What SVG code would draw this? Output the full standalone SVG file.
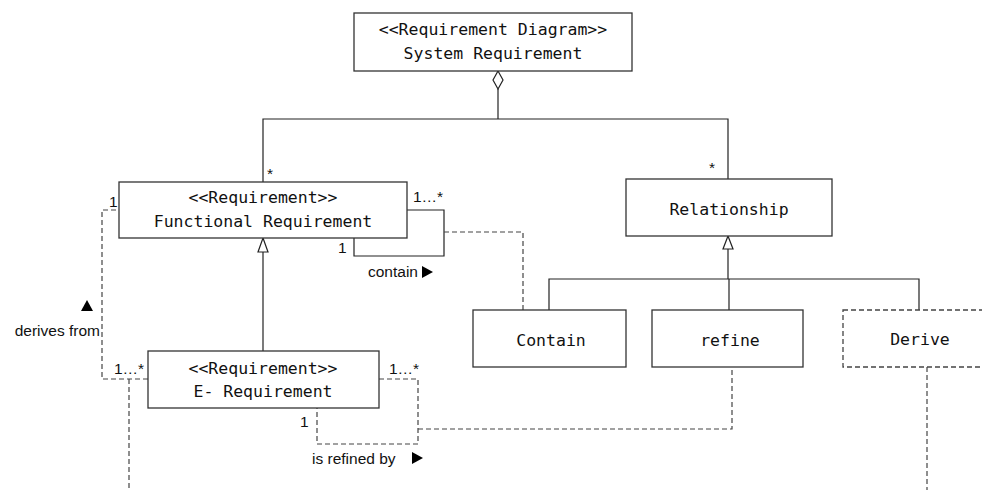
<svg xmlns="http://www.w3.org/2000/svg" width="982" height="490" viewBox="0 0 982 490">
<style>
.box{fill:#fff;stroke:#333;stroke-width:1.3}
.dbox{fill:#fff;stroke:#444;stroke-width:1.3;stroke-dasharray:5 3}
.t{font-family:"DejaVu Sans Mono","Liberation Mono",monospace;font-size:16.5px;fill:#111;text-anchor:middle}
.l{font-family:"Liberation Sans","Noto Sans",sans-serif;font-size:15.5px;fill:#111}
.s{fill:none;stroke:#222;stroke-width:1.2}
.d{fill:none;stroke:#444;stroke-width:1.2;stroke-dasharray:5 3}
.gen{fill:#fff;stroke:#222;stroke-width:1.2}
</style>
<rect width="982" height="490" fill="#fff"/>
<g id="connectors">
  <polyline class="s" points="498,89 498,119"/>
  <polyline class="s" points="263,182 263,119 728,119 728,179"/>
  <polygon class="gen" points="498,71 503,80 498,89 493,80"/>
  <polyline class="s" points="263,252 263,351"/>
  <polygon class="gen" points="263,238 268,252 258,252"/>
  <polyline class="s" points="728,249 728,279"/>
  <polygon class="gen" points="728,236 733,249 723,249"/>
  <polyline class="s" points="549,310 549,279 919,279 919,310"/>
  <polyline class="s" points="729,279 729,310"/>
  <polyline class="s" points="407,210 444,210 444,256 354,256 354,238"/>
  <polyline class="d" points="444,232 523,232 523,310"/>
  <polyline class="d" points="148,379 102,379 102,210 119,210"/>
  <polyline class="d" points="129,379 129,490"/>
  <polyline class="d" points="379,379 418,379 418,444 317,444 317,408"/>
  <polyline class="d" points="418,429 732,429 732,367"/>
  <polyline class="d" points="927,367 927,490"/>
</g>
<g id="system-requirement">
  <rect class="box" x="354" y="13" width="278" height="58"/>
  <text class="t" x="493" y="35">&lt;&lt;Requirement Diagram&gt;&gt;</text>
  <text class="t" x="493" y="59">System Requirement</text>
</g>
<g id="functional-requirement">
  <rect class="box" x="119" y="182" width="288" height="56"/>
  <text class="t" x="263" y="203">&lt;&lt;Requirement&gt;&gt;</text>
  <text class="t" x="263" y="227">Functional Requirement</text>
</g>
<g id="relationship">
  <rect class="box" x="626" y="179" width="206" height="57"/>
  <text class="t" x="729" y="215">Relationship</text>
</g>
<g id="contain">
  <rect class="box" x="473" y="310" width="153" height="57"/>
  <text class="t" x="551" y="346">Contain</text>
</g>
<g id="refine">
  <rect class="box" x="652" y="310" width="151" height="57"/>
  <text class="t" x="730" y="346">refine</text>
</g>
<g id="derive">
  <rect class="dbox" x="843" y="310" width="160" height="57"/>
  <text class="t" x="920" y="345">Derive</text>
</g>
<g id="e-requirement">
  <rect class="box" x="148" y="351" width="231" height="57"/>
  <text class="t" x="263" y="374">&lt;&lt;Requirement&gt;&gt;</text>
  <text class="t" x="263" y="397">E- Requirement</text>
</g>
<g id="labels">
  <text class="l" x="267" y="179">*</text>
  <text class="l" x="709" y="173">*</text>
  <text class="l" x="109" y="207">1</text>
  <text class="l" x="413" y="202">1…*</text>
  <text class="l" x="338" y="253">1</text>
  <text class="l" x="368" y="277">contain</text>
  <polygon points="422,266 433,272 422,278" fill="#000"/>
  <polygon points="87,300 93,311 81,311" fill="#000"/>
  <text class="l" x="100" y="336" text-anchor="end">derives from</text>
  <text class="l" x="114" y="374">1…*</text>
  <text class="l" x="389" y="374">1…*</text>
  <text class="l" x="300" y="427">1</text>
  <text class="l" x="312" y="464">is refined by</text>
  <polygon points="412,452 423,458 412,464" fill="#000"/>
</g>
</svg>
